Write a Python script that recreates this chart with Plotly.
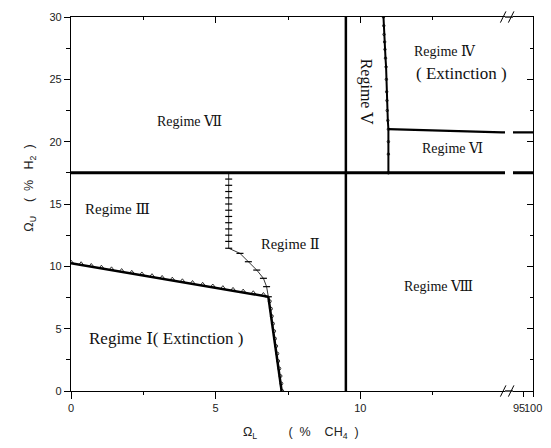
import plotly.graph_objects as go

# ---------------- data ----------------
# boundary I/III : computed points and fitted line
a_pts_x = [0.0, 0.35, 0.7, 1.05, 1.4, 1.75, 2.1, 2.45, 2.8, 3.15, 3.5, 3.85, 4.2, 4.55, 4.9, 5.25, 5.6, 5.95, 6.3, 6.65]
a_pts_y = [10.34, 10.21, 10.07, 9.93, 9.80, 9.66, 9.52, 9.39, 9.25, 9.11, 8.97, 8.84, 8.70, 8.56, 8.42, 8.29, 8.15, 8.01, 7.88, 7.74]
a_fit_x = [0.0, 6.82]
a_fit_y = [10.24, 7.56]

# boundary I/II : steep line and points
b_fit_x = [6.82, 7.28]
b_fit_y = [7.56, 0.0]
b_pts_x = [6.87, 6.91, 6.94, 6.98, 7.02, 7.05, 7.09, 7.13, 7.16, 7.20, 7.24, 7.27, 7.30]
b_pts_y = [7.2, 6.6, 6.0, 5.4, 4.8, 4.2, 3.6, 3.0, 2.4, 1.8, 1.2, 0.6, 0.0]

# boundary II/III : thin curve with markers
c_x = [5.45, 5.45, 5.45, 5.45, 5.45, 5.45, 5.45, 5.45, 5.45, 5.45, 5.45, 5.45, 5.45, 5.84, 6.13, 6.42, 6.65, 6.76, 6.82]
c_y = [17.5, 17.0, 16.5, 16.0, 15.5, 15.0, 14.5, 14.0, 13.5, 13.0, 12.5, 12.0, 11.45, 11.04, 10.37, 9.70, 9.04, 8.37, 7.56]

# boundary V / IV,VI
d_x = [10.80, 10.81, 10.82, 10.84, 10.85, 10.87, 10.89, 10.90, 10.91, 10.92, 10.93, 10.95, 10.97, 10.97, 10.97, 10.97]
d_y = [30.0, 29.3, 28.6, 28.0, 27.4, 26.7, 26.0, 25.0, 24.0, 23.3, 22.5, 21.7, 21.0, 20.0, 19.0, 17.5]

# boundary IV / VI
e_x = [10.97, 11.5, 12.6, 13.5, 14.9, 100.0]
e_y = [21.0, 20.97, 20.88, 20.82, 20.75, 20.75]

# straight regime borders
h_x = [0.0, 100.0]
h_y = [17.5, 17.5]
v_x = [9.5, 9.5]
v_y = [0.0, 30.0]

# regime labels
lab_text = ["Regime Ⅶ", "Regime Ⅲ", "Regime Ⅱ", "Regime Ⅰ( Extinction )", "Regime Ⅷ",
            "Regime Ⅳ", "( Extinction )", "Regime Ⅵ"]
lab_x = [4.1, 1.6, 7.57, 3.3, 12.7, 12.93, 13.48, 13.17]
lab_y = [21.6, 14.6, 11.8, 4.25, 8.4, 27.25, 25.5, 19.45]
lab_size = [14, 15, 14.5, 17, 14, 14, 17, 14]

x_tickvals = [0, 5, 10]
x2_tickvals = [95, 100]
y_tickvals = [0, 5, 10, 15, 20, 25, 30]

# ---------------- figure ----------------
D1 = 434 / 462
D2 = 442 / 462
BLK = "black"
SERIF = "Liberation Serif, DejaVu Serif, Noto Sans CJK SC"
fig = go.Figure()

def line(x, y, w, axes=("x", "y"), mode="lines", marker=None):
    fig.add_trace(go.Scatter(x=x, y=y, mode=mode, line=dict(color=BLK, width=w),
                             marker=marker, xaxis=axes[0], yaxis=axes[1],
                             showlegend=False, hoverinfo="skip", cliponaxis=True))

for ax in [("x", "y"), ("x2", "y2")]:
    line(h_x, h_y, 3, ax)
    line(e_x, e_y, 2.2, ax)
line(v_x, v_y, 2.5)
line(a_fit_x, a_fit_y, 2.5)
line(b_fit_x, b_fit_y, 2.5)
line(a_pts_x, a_pts_y, 1, mode="markers",
     marker=dict(symbol="triangle-up-open", size=4, color=BLK, line=dict(width=0.8)))
line(b_pts_x, b_pts_y, 1, mode="markers",
     marker=dict(symbol="circle-open", size=3, color=BLK, line=dict(width=0.8)))
line(c_x, c_y, 0.8, mode="lines+markers",
     marker=dict(symbol="line-ew-open", size=5, color=BLK, line=dict(width=1.2, color=BLK)))
line(d_x, d_y, 2, mode="lines+markers",
     marker=dict(symbol="circle-open", size=2.5, color=BLK, line=dict(width=0.8)))
# invisible trace so the top overlay axis is drawn
fig.add_trace(go.Scatter(x=[None], y=[None], xaxis="x3", yaxis="y", showlegend=False, hoverinfo="skip"))

for t, x, y, s in zip(lab_text, lab_x, lab_y, lab_size):
    fig.add_annotation(x=x, y=y, xref="x", yref="y", text=t, showarrow=False,
                       font=dict(family=SERIF, size=s, color="#111"))
fig.add_annotation(x=10.2, y=24.0, xref="x", yref="y", text="Regime Ⅴ", textangle=90, showarrow=False,
                   font=dict(family=SERIF, size=16, color="#111"))

tickfont = dict(family="Liberation Sans, Arial", size=11, color="#222")
minor_y = [2.5, 7.5, 12.5, 17.5, 22.5, 27.5]
fig.update_layout(
    width=535, height=432,
    margin=dict(l=63, r=10, t=9, b=49, autoexpand=False),
    paper_bgcolor="white", plot_bgcolor="white",
    xaxis=dict(domain=[0, D1], range=[0, 15.0], anchor="y", showgrid=False, zeroline=False,
               automargin=False,
               showline=True, linecolor=BLK, linewidth=1.3, mirror=True,
               tickvals=x_tickvals, ticks="outside", ticklen=7, tickcolor=BLK, tickwidth=1.2,
               tickfont=tickfont,
               minor=dict(tickvals=[2.5, 7.5, 12.5], ticks="outside", ticklen=3, tickcolor=BLK, tickwidth=1)),
    xaxis3=dict(overlaying="x", side="top", anchor="y", range=[0, 15.0], showgrid=False, zeroline=False,
                automargin=False,
                showline=False, showticklabels=False, tickvals=[5, 10], ticks="inside", ticklen=6,
                tickcolor=BLK, tickwidth=1.2,
                minor=dict(tickvals=[2.5, 7.5, 12.5], ticks="inside", ticklen=3, tickcolor=BLK, tickwidth=1)),
    xaxis2=dict(domain=[D2, 1], range=[90, 100], anchor="y2", showgrid=False, zeroline=False,
                automargin=False,
                showline=True, linecolor=BLK, linewidth=1.3, mirror=True,
                tickvals=x2_tickvals, ticks="outside", ticklen=5, tickcolor=BLK, tickwidth=1.2,
                showticklabels=False),
    yaxis=dict(range=[0, 30], anchor="x", showgrid=False, zeroline=False, automargin=False,
               showline=True, linecolor=BLK, linewidth=1.3,
               tickvals=y_tickvals, ticks="outside", ticklen=6, tickcolor=BLK, tickwidth=1.2,
               tickfont=tickfont,
               minor=dict(tickvals=minor_y, ticks="outside", ticklen=4, tickcolor=BLK, tickwidth=1)),
    yaxis2=dict(range=[0, 30], anchor="x2", side="right", showgrid=False, zeroline=False,
                automargin=False,
                showline=True, linecolor=BLK, linewidth=1.3, showticklabels=False,
                tickvals=y_tickvals, ticks="inside", ticklen=6, tickcolor=BLK, tickwidth=1.2,
                minor=dict(tickvals=minor_y, ticks="inside", ticklen=3, tickcolor=BLK, tickwidth=1)),
)

# x2 tick labels
for v, sh in zip(x2_tickvals, [-4, 0]):
    fig.add_annotation(x=v, y=0, xref="x2", yref="paper", text=str(v), showarrow=False,
                       xanchor="center", yanchor="top", yshift=-9, xshift=sh, font=tickfont)

# axis titles
fig.add_annotation(x=0.497, y=-0.112, xref="paper", yref="paper",
                   text="Ω<sub>L</sub>         (  %    CH<sub>4</sub>  )", showarrow=False,
                   xanchor="center", yanchor="middle",
                   font=dict(family="Liberation Sans, Arial", size=12.5, color="#222"))
fig.add_annotation(x=-0.0887, y=0.541, xref="paper", yref="paper", textangle=-90,
                   text="Ω<sub>U</sub>    (  %   H<sub>2</sub>  )", showarrow=False,
                   xanchor="center", yanchor="middle",
                   font=dict(family="Liberation Sans, Arial", size=12.5, color="#222"))

# broken-axis joins and break marks
for yy in [0, 1]:
    fig.add_shape(type="line", xref="paper", yref="paper", x0=D1, x1=D2, y0=yy, y1=yy,
                  line=dict(color=BLK, width=1.3))
for yy in [0, 1]:
    for xx in [D1 - 0.004, D2 - 0.004]:
        fig.add_shape(type="line", xref="paper", yref="paper", x0=xx - 0.006, x1=xx + 0.006,
                      y0=yy - 0.015, y1=yy + 0.015, line=dict(color=BLK, width=1))

fig.write_html("out.html")
